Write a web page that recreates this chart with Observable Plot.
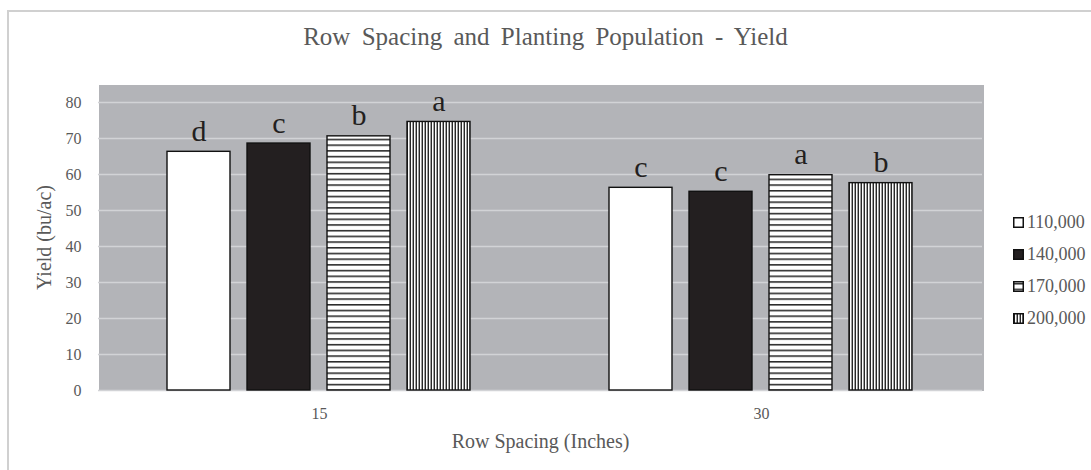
<!DOCTYPE html>
<html>
<head>
<meta charset="utf-8">
<script src="https://cdn.jsdelivr.net/npm/d3@7"></script>
<script src="https://cdn.jsdelivr.net/npm/@observablehq/plot@0.6"></script>
<style>
  html, body { margin: 0; padding: 0; background: #fff; }
  #wrap { position: relative; width: 1091px; height: 470px; overflow: hidden; font-family: "Liberation Serif", "Times New Roman", serif; color: #595959; }
  #border { position: absolute; left: 7px; top: 10px; width: 1200px; height: 600px; border-left: 2px solid #d0d0d0; border-top: 2px solid #d0d0d0; }
  #title { position: absolute; left: 0; width: 1091px; top: 24px; text-align: center; font-family: "Liberation Serif", serif; font-size: 25px; line-height: 25px; word-spacing: 5px; color: #595959; }
  #chart { position: absolute; left: 0; top: 0; }
  #legend { position: absolute; left: 1013px; top: 206px; }
  .item { display: flex; align-items: center; height: 32px; font-family: "Liberation Serif", serif; font-size: 18px; color: #595959; }
  .item svg { margin-right: 3px; display: block; }
</style>
</head>
<body>
<div id="wrap">
  <div id="border"></div>
  <div id="chart"></div>
  <div id="title"></div>
  <div id="legend"></div>
</div>
<script>
// ---- data ----
const titleText = "Row Spacing and Planting Population - Yield";
const spacings = ["15", "30"];
const populations = ["110,000", "140,000", "170,000", "200,000"];
const yield15 = [66.3, 68.6, 70.6, 74.6];
const yield30 = [56.3, 55.2, 59.8, 57.6];
const letters15 = ["d", "c", "b", "a"];
const letters30 = ["c", "c", "a", "b"];
const yTicks = [0, 10, 20, 30, 40, 50, 60, 70, 80];
const xLabel = "Row Spacing (Inches)";
const yLabel = "Yield (bu/ac)";

// ---- table ----
const data = [];
populations.forEach((p, i) => data.push({spacing: spacings[0], pop: p, yield: yield15[i], letter: letters15[i]}));
populations.forEach((p, i) => data.push({spacing: spacings[1], pop: p, yield: yield30[i], letter: letters30[i]}));

const fills = ["#ffffff", "#231f20", "url(#hstripe)", "url(#vstripe)"];
const bg = "#b3b4b8";
const grid = "#d2d3d6";
const serif = "Liberation Serif";

const chart = Plot.plot({
  width: 1091,
  height: 470,
  marginLeft: 97,
  marginRight: 109,
  marginTop: 84,
  marginBottom: 80,
  style: {fontFamily: serif, fontSize: "16px", color: "#595959", background: "transparent"},
  fx: {domain: spacings, padding: 0},
  x: {domain: populations, axis: null, paddingInner: 0.21, paddingOuter: 0.8366},
  y: {domain: [0, 85]},
  color: {domain: populations, range: fills},
  marks: [
    Plot.frame({fill: bg, stroke: "none", shapeRendering: "crispEdges", insetRight: -1}),
    Plot.ruleY(yTicks, {stroke: grid, strokeWidth: 1.5}),
    Plot.barY(data, {fx: "spacing", x: "pop", y: "yield", fill: "pop", stroke: "#111", strokeWidth: 1.4}),
    Plot.text(data, {fx: "spacing", x: "pop", y: "yield", text: "letter", lineAnchor: "bottom", dy: -11, fontSize: 30, fontFamily: serif, fill: "#231f20"}),
    Plot.axisY({ticks: yTicks, tickSize: 0, tickPadding: 17, fontSize: 16, fontFamily: serif, label: yLabel, labelAnchor: "center", labelOffset: 62, labelArrow: "none"}),
    Plot.axisFx({anchor: "bottom", tickSize: 0, tickPadding: 17, fontSize: 16, fontFamily: serif, label: xLabel, labelAnchor: "center", labelOffset: 57, labelArrow: "none"})
  ]
});

// pattern defs
const ns = "http://www.w3.org/2000/svg";
const defs = document.createElementNS(ns, "defs");
defs.innerHTML = `
  <pattern id="hstripe" patternUnits="userSpaceOnUse" width="8" height="5.7">
    <rect width="8" height="5.7" fill="#fff"/>
    <rect y="2" width="8" height="1.4" fill="#111"/>
  </pattern>
  <pattern id="vstripe" patternUnits="userSpaceOnUse" width="3" height="8">
    <rect width="3" height="8" fill="#fff"/>
    <rect x="0.6" width="1.3" height="8" fill="#111"/>
  </pattern>`;
chart.insertBefore(defs, chart.firstChild);

// axis title sizes
chart.querySelectorAll('g[aria-label$="axis label"]').forEach(g => {
  g.setAttribute("font-size", "20");
  g.querySelectorAll("text").forEach(t => t.setAttribute("font-size", "20"));
});

document.getElementById("chart").appendChild(chart);
document.getElementById("title").textContent = titleText;

// legend
const legend = document.getElementById("legend");
populations.forEach((p, i) => {
  const row = document.createElement("div");
  row.className = "item";
  row.innerHTML = `<svg width="11" height="11"><rect x="0.75" y="0.75" width="9.5" height="9.5" fill="${fills[i]}" stroke="#111" stroke-width="1.5"/></svg><span>${p}</span>`;
  legend.appendChild(row);
});
</script>
</body>
</html>
